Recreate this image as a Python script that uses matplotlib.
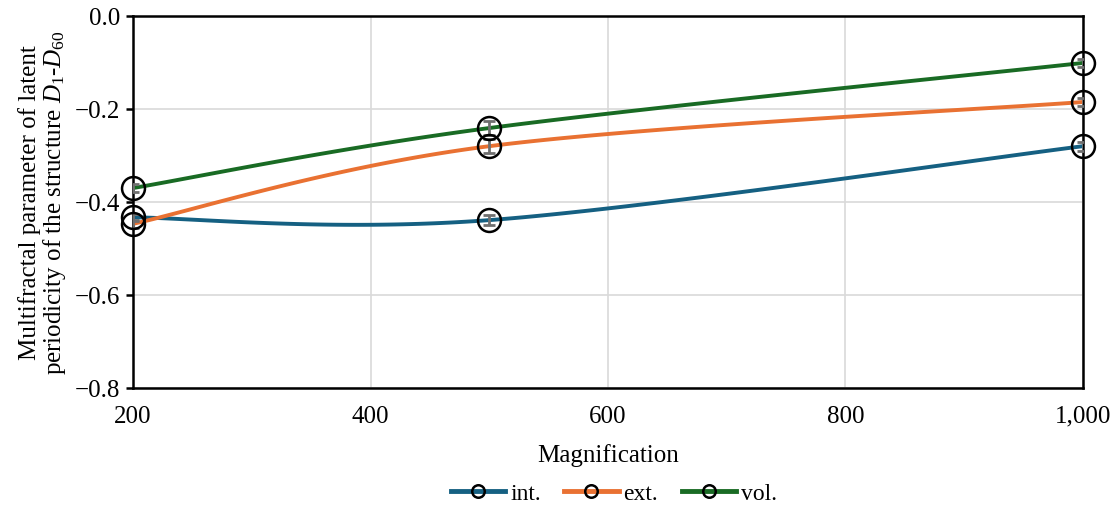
import matplotlib
matplotlib.use("Agg")
import matplotlib.pyplot as plt
import numpy as np
from matplotlib.ticker import FuncFormatter

plt.rcParams['font.family'] = ['Liberation Serif', 'DejaVu Serif']
plt.rcParams['mathtext.fontset'] = 'custom'
plt.rcParams['mathtext.rm'] = 'Liberation Serif'
plt.rcParams['mathtext.it'] = 'Liberation Serif:italic'

magnification = [200, 500, 1000]
series_names = ["int.", "ext.", "vol."]
int_values = [-0.433, -0.439, -0.280]
ext_values = [-0.447, -0.280, -0.185]
vol_values = [-0.370, -0.241, -0.101]
int_err = [0.008, 0.010, 0.010]
ext_err = [0.008, 0.015, 0.008]
vol_err = [0.008, 0.015, 0.008]
colors = ["#156082", "#E97132", "#196B24"]


def smooth(xs, ys, n=60):
    # Bezier smoothing through the points, same idea as a spreadsheet "smoothed line"
    px = np.array(xs, float)
    py = np.array(ys, float)
    ex = np.concatenate([[px[0]], px, [px[-1]]])
    ey = np.concatenate([[py[0]], py, [py[-1]]])
    out_x, out_y = [], []
    t = np.linspace(0, 1, n)
    for i in range(len(px) - 1):
        p0 = np.array([ex[i + 1], ey[i + 1]])
        p3 = np.array([ex[i + 2], ey[i + 2]])
        c1 = p0 + (p3 - np.array([ex[i], ey[i]])) / 6
        c2 = p3 - (np.array([ex[i + 3], ey[i + 3]]) - p0) / 6
        b = ((1 - t) ** 3)[:, None] * p0 + (3 * (1 - t) ** 2 * t)[:, None] * c1 \
            + (3 * (1 - t) * t ** 2)[:, None] * c2 + (t ** 3)[:, None] * p3
        out_x.extend(b[:, 0])
        out_y.extend(b[:, 1])
    return out_x, out_y


fig = plt.figure(figsize=(11.16, 5.10), dpi=100)
ax = fig.add_axes([0.1192, 0.2373, 0.8512, 0.7294])

all_values = [int_values, ext_values, vol_values]
all_errs = [int_err, ext_err, vol_err]
handles = []
for name, vals, errs, col in zip(series_names, all_values, all_errs, colors):
    sx, sy = smooth(magnification, vals)
    ax.plot(sx, sy, color=col, lw=2.8, zorder=3, solid_capstyle='butt')
    ax.errorbar(magnification, vals, yerr=errs, fmt='none', ecolor='#6f6f6f',
                elinewidth=2, capsize=4, capthick=2, zorder=4)
    ax.plot(magnification, vals, 'o', ms=16.5, mfc='none', mec='black', mew=1.8,
            zorder=5, clip_on=False)
    h, = ax.plot([], [], color=col, lw=3.5, marker='o', ms=9, mfc='none',
                 mec='black', mew=1.8, label=name)
    handles.append(h)

ax.set_xlim(200, 1000)
ax.set_ylim(-0.8, 0.0)
ax.set_xticks([200, 400, 600, 800, 1000])
ax.set_yticks([-0.8, -0.6, -0.4, -0.2, 0.0])
ax.xaxis.set_major_formatter(FuncFormatter(lambda v, p: f"{int(v):,}"))
ax.yaxis.set_major_formatter(FuncFormatter(lambda v, p: f"{v:.1f}".replace("-", "\u2212")))
ax.grid(True, color='#d9d9d9', lw=1.2, zorder=0)
ax.tick_params(axis='x', length=0, labelsize=18, pad=12)
ax.tick_params(axis='y', length=5, width=1.8, labelsize=18, direction='out', pad=4)
for s in ax.spines.values():
    s.set_linewidth(1.8)
    s.set_color('black')

ax.set_xlabel("Magnification", fontsize=18, labelpad=12)
ax.set_ylabel("Multifractal parameter of latent\nperiodicity of the structure $D_1$-$D_{60}$",
              fontsize=18, labelpad=5, linespacing=1.0)

fig.legend(handles=handles, loc='lower center', bbox_to_anchor=(0.55, -0.032),
           ncol=3, frameon=False, fontsize=17, handlelength=2.3, columnspacing=1.0,
           handletextpad=0.2)

fig.savefig("out.png", dpi=100)
